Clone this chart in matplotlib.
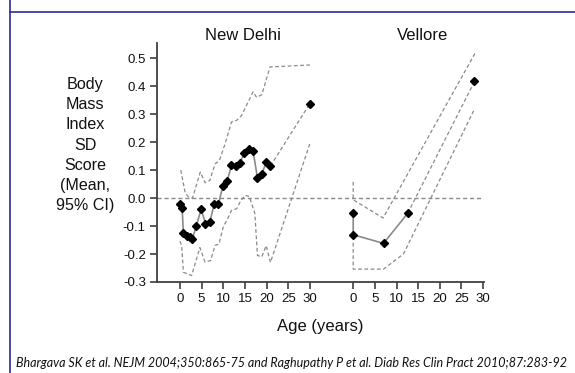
import numpy as np
import matplotlib
matplotlib.use('Agg')
import matplotlib.pyplot as plt
from matplotlib.lines import Line2D

plt.rcParams['font.family'] = ['Liberation Sans', 'DejaVu Sans']
plt.rcParams['axes.unicode_minus'] = False

# New Delhi cohort (age in years, BMI SD score)
nd_age = [0, 0.5, 0.8, 1.7, 2.3, 2.9, 3.8, 4.9, 5.9, 6.9, 7.9, 8.9, 9.9, 10.9, 11.9,
          12.9, 13.9, 14.9, 15.9, 16.9, 17.9, 18.9, 19.9, 20.9, 30]
nd_mean = [-0.02, -0.034, -0.125, -0.134, -0.139, -0.145, -0.098, -0.04, -0.091, -0.086,
           -0.022, -0.02, 0.042, 0.06, 0.117, 0.116, 0.127, 0.163, 0.176, 0.167, 0.072,
           0.086, 0.128, 0.115, 0.338]
nd_up_age = [0.2, 1.2, 1.9, 2.9, 4.7, 5.8, 6.9, 8.1, 9.1, 10.4, 11.9, 13.1, 14.2, 16.9,
             17.7, 18.9, 20.8, 30]
nd_up = [0.10, 0.02, 0.005, 0.0, 0.093, 0.055, 0.063, 0.122, 0.134, 0.193, 0.272, 0.278,
         0.295, 0.38, 0.36, 0.37, 0.469, 0.476]
nd_lo_age = [0, 0.4, 0.8, 2.7, 4.6, 5.8, 7.1, 8.1, 9.0, 10.0, 11.2, 11.9, 13.1, 13.9,
             15.0, 16.0, 17.3, 17.9, 18.9, 19.9, 20.9, 30]
nd_lo = [-0.154, -0.17, -0.265, -0.277, -0.177, -0.229, -0.223, -0.169, -0.165, -0.103,
         -0.068, -0.044, -0.038, -0.014, 0.01, 0.006, -0.055, -0.205, -0.21, -0.17,
         -0.23, 0.195]

# Vellore cohort
v_age = [0, 0, 7, 12.6, 28]
v_mean = [-0.054, -0.131, -0.162, -0.054, 0.417]
v_up_age = [0, 0, 6.9, 28.2]
v_up = [0.058, -0.006, -0.071, 0.52]
v_lo_age = [0, 0, 7, 11.6, 27.8]
v_lo = [-0.16, -0.254, -0.254, -0.2, 0.312]

v_shift = 40  # Vellore panel drawn to the right on the same axis
tick_ages = [0, 5, 10, 15, 20, 25, 30]

grey = '#8a8a8a'
dash = (0, (3, 2))
txt = '#111111'

fig = plt.figure(figsize=(5.75, 3.73), dpi=100)
ax = fig.add_axes([0.273, 0.244, 0.568, 0.641])

ax.axhline(0, color=grey, lw=1, ls=dash)

# New Delhi
ax.plot(nd_up_age, nd_up, color=grey, lw=0.9, ls=dash)
ax.plot(nd_lo_age, nd_lo, color=grey, lw=0.9, ls=dash)
ax.plot(nd_age[:-1], nd_mean[:-1], color=grey, lw=1.2)
ax.plot(nd_age[-2:], nd_mean[-2:], color=grey, lw=0.9, ls=dash)
ax.plot(nd_age, nd_mean, 'D', color='black', ms=4.5)

# Vellore
va = np.array(v_age) + v_shift
ax.plot(np.array(v_up_age) + v_shift, v_up, color=grey, lw=0.9, ls=dash)
ax.plot(np.array(v_lo_age) + v_shift, v_lo, color=grey, lw=0.9, ls=dash)
ax.plot(va[:-1], v_mean[:-1], color=grey, lw=1.2)
ax.plot(va[-2:], v_mean[-2:], color=grey, lw=0.9, ls=dash)
ax.plot(va, v_mean, 'D', color='black', ms=4.5)

ax.set_xlim(-5.3, 70.1)
ax.set_ylim(-0.3, 0.555)
ax.set_xticks(tick_ages + [a + v_shift for a in tick_ages])
ax.set_xticklabels([str(a) for a in tick_ages] * 2)
ax.set_yticks(np.arange(-0.3, 0.51, 0.1))
ax.set_yticklabels(['%.1f' % v for v in np.arange(-0.3, 0.51, 0.1)])
ax.tick_params(direction='out', length=5, width=1.2, color='#404040',
               labelsize=9.5, labelcolor=txt, pad=3)
for s in ['top', 'right']:
    ax.spines[s].set_visible(False)
for s in ['left', 'bottom']:
    ax.spines[s].set_color('#404040')
    ax.spines[s].set_linewidth(1.3)

fig.text(243 / 575, 1 - 36 / 373, 'New Delhi', ha='center', va='center', fontsize=12, color=txt)
fig.text(423 / 575, 1 - 36 / 373, 'Vellore', ha='center', va='center', fontsize=12, color=txt)
fig.text(85 / 575, 1 - 145 / 373, 'Body\nMass\nIndex\nSD\nScore\n(Mean,\n95% CI)',
         ha='center', va='center', multialignment='center', fontsize=11.6,
         linespacing=1.42, color=txt)
fig.text(320 / 575, 1 - 327 / 373, 'Age (years)', ha='center', va='center', fontsize=12, color=txt)
fig.text(16 / 575, 1 - 363 / 373,
         'Bhargava SK et al. NEJM 2004;350:865-75 and Raghupathy P et al. Diab Res Clin Pract 2010;87:283-92',
         ha='left', va='center', fontsize=9, style='italic', family=['Lato', 'DejaVu Sans'],
         color=txt)

# slide frame
blue = '#2b2b9a'
fig.add_artist(Line2D([10 / 575, 1], [1 - 11.7 / 373] * 2, color=blue, lw=1.2))
fig.add_artist(Line2D([10 / 575] * 2, [0, 1], color=blue, lw=1.2))

fig.savefig('out.png', dpi=100)
